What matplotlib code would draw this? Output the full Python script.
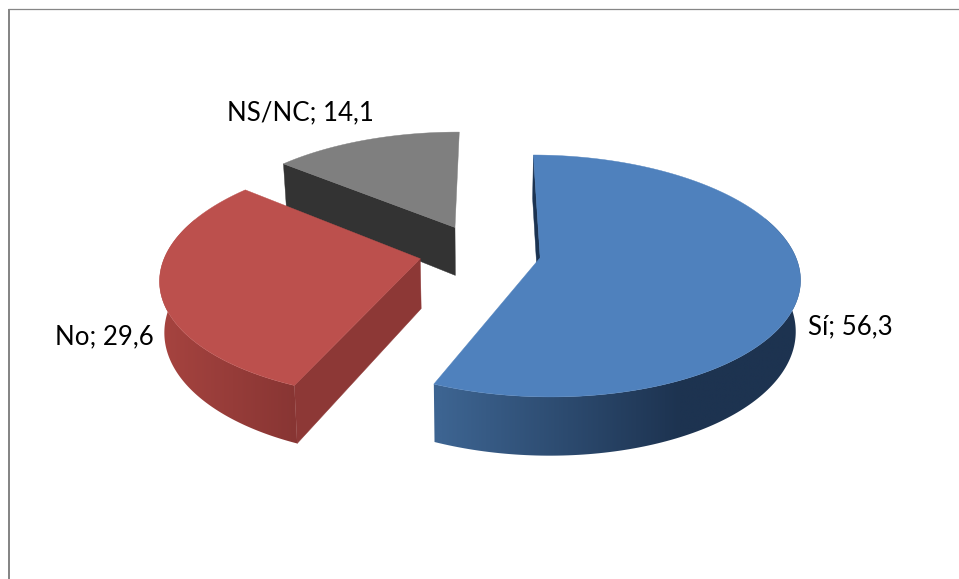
import numpy as np
import matplotlib
matplotlib.use("Agg")
import matplotlib.pyplot as plt
from matplotlib.colors import LinearSegmentedColormap
from matplotlib.patches import Polygon

labels = ["Sí", "No", "NS/NC"]
values = [56.3, 29.6, 14.1]
top_colors = ["#4f81bd", "#bc504d", "#7f7f7f"]
cut_colors = ["#1b3352", "#8d3836", "#333333"]
wall_light = ["#3d6491", "#a5433f", "#5a5a5a"]
wall_dark = ["#1d3350", "#873533", "#333333"]
# screen x range of the side wall gradient, light end then dark end
wall_x = [(441, 680), (165, 300), (280, 460)]
label_pos = [(808, 327), (55, 337), (227, 113)]

start_angle = 0.3
explode = 0.24
x0, y0 = 480, 252
rx, ry = 254, 116.5
persp = 0.15
depth = 49.5
shrink = 0.985


def project(X, Y, drop=0.0):
    # ground plane to screen, drop > 0 means the lower rim of the slice
    s = 1 / (1 + persp * Y)
    sx = x0 + rx * X * s
    sy = y0 - ry * Y * s
    if drop > 0:
        sx = x0 + (sx - x0) * shrink
        sy = sy + drop * s
    return sx, sy


fig = plt.figure(figsize=(9.59, 5.79), dpi=100)
ax = fig.add_axes([0, 0, 1, 1])
ax.axis("off")

# chart border, only top and left are in the crop
ax.plot([9, 9], [579, 8.5], color="#868686", lw=1.44, solid_capstyle="butt")
ax.plot([8, 959], [8.5, 8.5], color="#868686", lw=0.9, solid_capstyle="butt")

edges = start_angle + np.cumsum([0] + values) * 3.6

# back slices first
for i in [2, 1, 0]:
    z = 2 + 4 * (2 - i)
    a0, a1 = edges[i], edges[i + 1]
    mid = np.radians((a0 + a1) / 2)
    cx, cy = explode * np.sin(mid), explode * np.cos(mid)
    ang = np.linspace(a0, a1, 200)
    X = cx + np.sin(np.radians(ang))
    Y = cy + np.cos(np.radians(ang))

    # outer wall, the back part of it ends up under the top face
    front = np.cos(np.radians(ang)) < 0.35
    if front.any():
        tx, ty = project(X[front], Y[front])
        bx, by = project(X[front], Y[front], depth)
        outline = np.c_[np.r_[tx, bx[::-1]], np.r_[ty, by[::-1]]]
        cmap = LinearSegmentedColormap.from_list("wall", [wall_light[i], wall_dark[i]])
        xa, xb = wall_x[i]
        left, right = outline[:, 0].min() - 1, outline[:, 0].max() + 1
        grad = np.clip((np.linspace(left, right, 300) - xa) / (xb - xa), 0, 1)
        im = ax.imshow(grad[None, :], cmap=cmap, vmin=0, vmax=1, aspect="auto",
                       extent=(left, right, outline[:, 1].max() + 1, outline[:, 1].min() - 1),
                       zorder=z)
        im.set_clip_path(Polygon(outline, transform=ax.transData))

    # only the cut face on the start side is turned to the viewer
    ra = np.radians(a0)
    ex, ey = cx + np.sin(ra), cy + np.cos(ra)
    p1, p2 = project(cx, cy), project(ex, ey)
    p3, p4 = project(ex, ey, depth), project(cx, cy, depth)
    ax.fill([p1[0], p2[0], p3[0], p4[0]], [p1[1], p2[1], p3[1], p4[1]],
            color=cut_colors[i], lw=0.3, zorder=z + 1)

    # top face
    tx, ty = project(np.r_[cx, X], np.r_[cy, Y])
    ax.fill(tx, ty, color=top_colors[i], lw=0.3, zorder=z + 2)

ax.set_xlim(0, 959)
ax.set_ylim(579, 0)

for name, val, pos in zip(labels, values, label_pos):
    text = f"{name}; {val}".replace(".", ",")
    ax.text(pos[0], pos[1], text, family="Lato", fontsize=18.6, color="black",
            ha="left", va="center", zorder=20)

fig.savefig("out.png", dpi=100)
